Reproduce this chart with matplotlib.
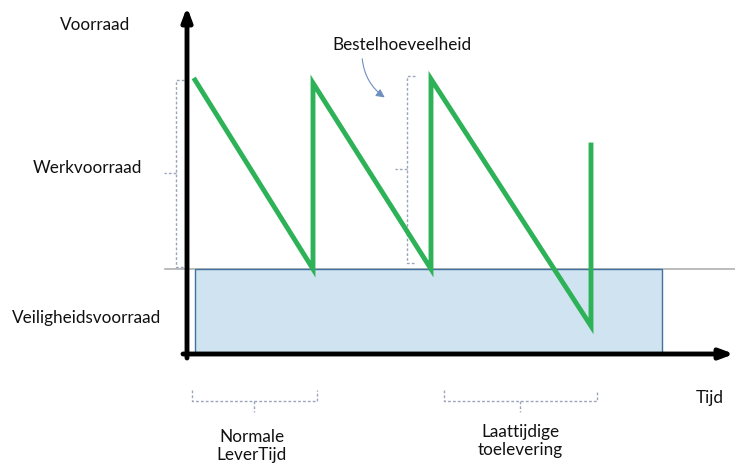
import matplotlib
matplotlib.use("Agg")
import matplotlib.pyplot as plt
from matplotlib.patches import Rectangle

plt.rcParams["font.family"] = ["Lato", "DejaVu Sans"]

# Diagram drawn in a pixel-like coordinate space (x right, y down)
W, H = 735, 465

# Sawtooth stock level
stock_x = [195, 313, 313, 431, 431, 591, 591]
stock_y = [80, 269, 83, 269, 79, 326, 145]

# Safety stock band
safety_x0, safety_x1 = 195, 662
safety_top, safety_bottom = 269, 353

# Labels
labels = [
    ("Voorraad", 95, 25),
    ("Werkvoorraad", 87, 168),
    ("Veiligheidsvoorraad", 87, 318),
    ("Bestelhoeveelheid", 402, 45),
    ("Tijd", 710, 398),
    ("Normale\nLeverTijd", 252, 446),
    ("Laattijdige\ntoelevering", 520, 441),
]

# Braces: vertical (x, y_top, y_bottom), horizontal (x_left, x_right, y)
vbraces = [(176, 80, 267), (407, 76, 263)]
hbraces = [(192, 317, 401), (444, 597, 401)]

BRACE = dict(color="#9aa6b8", lw=1.0, ls=(0, (2, 1.5)))

fig = plt.figure(figsize=(W / 100, H / 100), dpi=100)
ax = fig.add_axes([0, 0, 1, 1])
ax.set_xlim(0, W)
ax.set_ylim(H, 0)
ax.axis("off")

ax.add_patch(Rectangle((safety_x0, safety_top), safety_x1 - safety_x0,
                       safety_bottom - safety_top, facecolor="#d0e3f1",
                       edgecolor="#41719c", lw=1.0, zorder=1))
ax.plot([165, W], [safety_top, safety_top], color="#b0b0b0", lw=1.2, zorder=0)

# axes arrows
ARROW = dict(arrowstyle="-|>,head_length=0.8,head_width=0.3",
             color="black", lw=3.5, shrinkA=0, shrinkB=0)
ax.annotate("", xy=(187, 7), xytext=(187, 358), arrowprops=ARROW,
            annotation_clip=False, zorder=4)
ax.annotate("", xy=(734, 354), xytext=(183, 354), arrowprops=ARROW,
            annotation_clip=False, zorder=4)

ax.plot(stock_x, stock_y, color="#2db257", lw=3.5, solid_joinstyle="miter", zorder=3)

for x, y0, y1 in vbraces:
    ym = (y0 + y1) / 2
    ax.plot([x + 8, x, x, x + 8], [y0, y0, y1, y1], **BRACE)
    ax.plot([x, x - 12], [ym, ym], **BRACE)
for x0, x1, y in hbraces:
    xm = (x0 + x1) / 2
    ax.plot([x0, x0, x1, x1], [y - 11, y, y, y - 11], **BRACE)
    ax.plot([xm, xm], [y, y + 11], **BRACE)

ax.annotate("", xy=(387, 99), xytext=(362, 56),
            arrowprops=dict(arrowstyle="-|>,head_length=0.5,head_width=0.25",
                            color="#6f8fc0", lw=0.8,
                            connectionstyle="arc3,rad=0.25"))

for text, x, y in labels:
    ax.text(x, y, text, ha="center", va="center", fontsize=12.3,
            color="#111111", linespacing=1.2)

fig.savefig("out.png", dpi=100)
